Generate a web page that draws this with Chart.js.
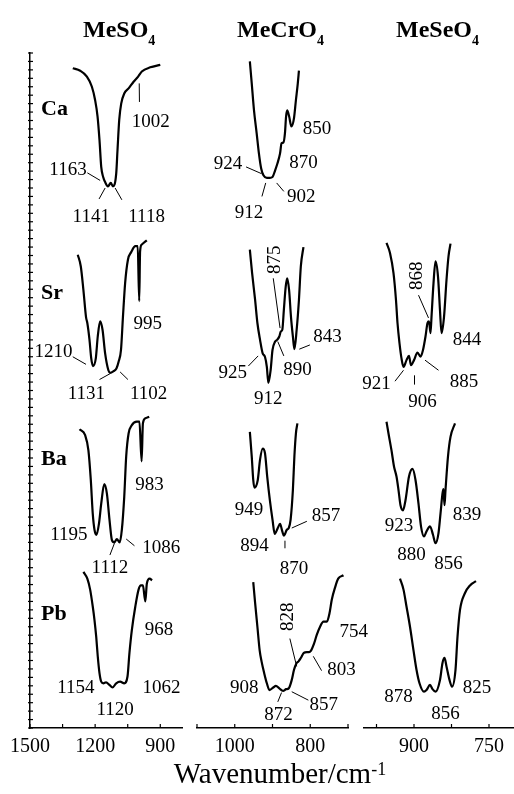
<!DOCTYPE html>
<html>
<head>
<meta charset="utf-8">
<script src="https://cdn.jsdelivr.net/npm/chart.js@4.4.1/dist/chart.umd.min.js"></script>
<style>
  body { margin: 0; background: #fff; width: 514px; height: 794px; position: relative; overflow: hidden; }
  canvas { position: absolute; top: 0; }
  #xtitle { position: absolute; left: 0; width: 560px; top: 759px; text-align: center;
            font: 29px/29px "Liberation Serif", "Times New Roman", serif; color: #000; }
  #xtitle sup { font-size: 18px; position: relative; top: -4px; vertical-align: top; }
</style>
</head>
<body>
<canvas id="colSO4" width="190" height="770" style="left:0"></canvas>
<canvas id="colCrO4" width="200" height="770" style="left:180px"></canvas>
<canvas id="colSeO4" width="158" height="770" style="left:356px"></canvas>
<div id="xtitle">Wavenumber/cm<sup>-1</sup></div>
<script>
// x 축 눈금 (작은 눈금 포함), 라벨이 붙는 값
const so4Ticks = [1500, 1350, 1200, 1050, 900]
const so4Labels = [1500, 1200, 900]
const cro4Ticks = [1100, 1000, 900, 800, 700]
const cro4Labels = [1000, 800]
const seo4Ticks = [975, 900, 825, 750]
const seo4Labels = [900, 750]

const rowNames = ['Ca', 'Sr', 'Ba', 'Pb']
const rowLabelY = [72.7, 50.8, 31.2, 12.8]

// 스펙트럼: 파수(cm-1)와 세로값 (그림에서 읽은 값, 줄마다 오프셋 포함)
const caSO4_wn = [1303, 1269, 1238, 1215, 1200, 1189, 1180, 1172, 1163, 1154, 1141, 1128, 1118, 1103, 1097, 1089, 1080, 1066, 1046, 1023, 1002, 985, 946, 900]
const caSO4_y = [78.2, 77.9, 77.2, 76.0, 74.4, 72.5, 69.7, 66.5, 65.3, 64.7, 64.2, 64.6, 64.2, 65.7, 68.5, 72.1, 74.0, 75.2, 75.8, 76.6, 77.2, 77.8, 78.3, 78.6]

const srSO4_wn = [1280, 1266, 1254, 1242, 1236, 1226, 1218, 1210, 1197, 1188, 1177, 1166, 1154, 1139, 1131, 1115, 1102, 1092, 1081, 1072, 1062, 1049, 1034, 1015, 1004, 997, 993, 985, 962]
const srSO4_y = [56.1, 54.7, 51.9, 48.7, 48.0, 46.0, 43.8, 42.9, 43.8, 46.4, 48.2, 47.2, 44.4, 42.4, 42.1, 42.3, 42.6, 43.4, 44.8, 48.7, 52.7, 55.5, 56.4, 57.1, 57.1, 50.6, 56.5, 57.3, 57.8]

const baSO4_wn = [1272, 1246, 1231, 1220, 1211, 1203, 1194, 1182, 1172, 1158, 1146, 1134, 1123, 1112, 1100, 1087, 1077, 1066, 1057, 1046, 1031, 1008, 996, 986, 980, 969, 951]
const baSO4_y = [35.4, 34.7, 32.9, 29.4, 25.4, 23.5, 22.9, 24.3, 26.6, 28.9, 27.8, 24.7, 22.3, 22.0, 22.4, 22.0, 23.5, 27.4, 32.2, 34.9, 35.9, 36.3, 36.3, 31.6, 36.1, 36.7, 36.9]

const pbSO4_wn = [1254, 1236, 1223, 1211, 1203, 1195, 1188, 1180, 1172, 1162, 1150, 1134, 1120, 1103, 1085, 1066, 1051, 1042, 1031, 1015, 1000, 989, 980, 969, 962, 949, 938]
const pbSO4_y = [18.5, 17.7, 16.4, 14.4, 12.8, 10.8, 8.5, 6.5, 5.5, 5.3, 5.4, 5.1, 4.8, 5.3, 5.5, 5.3, 6.1, 8.9, 11.6, 14.4, 16.4, 16.9, 16.9, 15.0, 17.1, 17.7, 17.5]

const caCrO4_wn = [960, 955, 949, 942, 936, 930, 924, 915, 907, 900, 893, 887, 880, 876, 871, 867, 864, 861, 856, 850, 843, 838, 833, 830]
const caCrO4_y = [79.0, 76.4, 73.2, 70.5, 68.1, 66.3, 65.5, 65.2, 65.2, 65.3, 66.1, 66.9, 68.1, 69.3, 69.4, 70.5, 72.5, 73.2, 72.5, 71.3, 72.3, 74.4, 76.4, 77.9]

const srCrO4_wn = [960, 954, 946, 940, 933, 926, 920, 915, 911, 905, 900, 893, 888, 882, 878, 874, 870, 865, 861, 856, 851, 846, 842, 836, 830, 825, 818]
const srCrO4_y = [56.7, 53.9, 50.7, 48.0, 46.0, 44.4, 44.0, 42.8, 40.9, 42.4, 44.8, 45.8, 46.0, 46.4, 47.0, 47.2, 49.5, 52.3, 53.3, 51.9, 48.7, 46.4, 44.9, 47.2, 50.7, 54.7, 57.0]

const baCrO4_wn = [960, 955, 951, 948, 939, 933, 926, 920, 914, 907, 900, 894, 886, 880, 874, 870, 862, 857, 852, 846, 842, 838, 834]
const baCrO4_y = [35.1, 32.2, 29.4, 28.5, 29.4, 31.8, 33.1, 32.6, 29.8, 27.0, 24.7, 23.0, 23.7, 24.2, 23.3, 22.8, 23.5, 23.7, 24.7, 28.2, 32.2, 34.9, 36.1]

const pbCrO4_wn = [951, 946, 940, 934, 929, 922, 915, 908, 898, 891, 882, 872, 864, 857, 849, 843, 836, 831, 825, 817, 809, 803, 799, 790, 783, 774, 765, 756, 749, 743, 734, 726, 712]
const pbCrO4_y = [17.3, 14.8, 12.0, 9.2, 7.9, 6.5, 5.3, 4.5, 4.8, 5.0, 4.7, 4.4, 4.6, 4.7, 5.7, 6.9, 7.7, 7.9, 8.3, 8.9, 9.0, 9.0, 9.1, 10.0, 11.0, 12.0, 12.6, 12.6, 13.6, 15.2, 16.7, 17.7, 18.1]

const srSeO4_wn = [955, 948, 941, 936, 933, 929, 925, 921, 915, 910, 906, 900, 893, 887, 882, 877, 873, 870, 867, 865, 861, 857, 852, 848, 845, 840, 835, 831, 827]
const srSeO4_y = [57.5, 56.3, 53.9, 50.7, 48.0, 45.6, 43.8, 42.8, 43.6, 44.1, 43.0, 43.6, 44.5, 44.0, 44.8, 46.4, 48.0, 48.2, 46.8, 48.7, 52.7, 55.3, 53.5, 49.5, 46.8, 48.7, 53.1, 55.9, 57.4]

const baSeO4_wn = [955, 951, 945, 940, 935, 931, 927, 922, 917, 910, 903, 897, 891, 886, 880, 875, 868, 862, 857, 851, 847, 843, 841, 839, 837, 832, 827, 818]
const baSeO4_y = [36.3, 34.9, 32.9, 31.0, 29.8, 28.2, 26.4, 25.8, 27.0, 29.8, 30.7, 29.4, 26.6, 23.9, 22.7, 23.3, 23.9, 22.9, 21.9, 23.1, 25.4, 27.8, 28.3, 26.4, 28.2, 32.2, 34.5, 36.1]

const pbSeO4_wn = [928, 921, 915, 908, 901, 895, 889, 880, 875, 868, 863, 857, 848, 843, 839, 835, 829, 824, 817, 813, 808, 798, 788, 776]
const pbSeO4_y = [17.7, 16.4, 14.4, 12.0, 9.2, 6.9, 5.3, 4.3, 4.5, 5.1, 4.6, 4.3, 5.7, 7.7, 8.3, 7.3, 5.7, 4.9, 6.9, 10.8, 14.0, 16.0, 16.9, 17.4]

// 피크 라벨: 텍스트, 라벨 중심(파수, 세로값), 지시선 [x1, y1, x2, y2], 세로쓰기 여부
const so4Peaks = [
  { t: '1002', x: 944, y: 71.9, line: [997, 76.4, 996, 74.2] },
  { t: '1163', x: 1325, y: 66.3, line: [1236, 65.8, 1177, 64.9] },
  { t: '1141', x: 1218, y: 60.7, line: [1182, 62.7, 1154, 64.0] },
  { t: '1118', x: 963, y: 60.7, line: [1108, 64.0, 1077, 62.6] },
  { t: '995', x: 958, y: 48.0 },
  { t: '1210', x: 1392, y: 44.7, line: [1303, 44.0, 1242, 43.1] },
  { t: '1131', x: 1240, y: 39.7, line: [1180, 41.3, 1131, 42.0] },
  { t: '1102', x: 954, y: 39.7, line: [1085, 42.2, 1049, 41.3] },
  { t: '983', x: 950, y: 28.9 },
  { t: '1195', x: 1321, y: 23.0 },
  { t: '1086', x: 896, y: 21.4, line: [1057, 22.4, 1019, 21.6] },
  { t: '1112', x: 1132, y: 19.1, line: [1111, 21.9, 1132, 20.5] },
  { t: '968', x: 906, y: 11.7 },
  { t: '1154', x: 1289, y: 4.9 },
  { t: '1062', x: 894, y: 4.9 },
  { t: '1120', x: 1108, y: 2.2 }
]
const cro4Peaks = [
  { t: '850', x: 782, y: 71.1 },
  { t: '870', x: 818, y: 67.1 },
  { t: '924', x: 1018, y: 67.0, line: [970, 66.5, 929, 65.7] },
  { t: '902', x: 824, y: 63.0, line: [889, 64.6, 870, 63.6] },
  { t: '912', x: 962, y: 61.1, line: [918, 64.6, 928, 63.0] },
  { t: '875', x: 896, y: 55.5, rot: true, line: [898, 53.3, 880, 47.4] },
  { t: '843', x: 754, y: 46.4, line: [829, 44.9, 801, 45.4] },
  { t: '890', x: 834, y: 42.6, line: [886, 45.8, 870, 44.1] },
  { t: '925', x: 1005, y: 42.2, line: [964, 42.9, 938, 44.1] },
  { t: '912', x: 911, y: 39.1 },
  { t: '949', x: 962, y: 25.9 },
  { t: '857', x: 758, y: 25.3, line: [849, 23.7, 809, 24.5] },
  { t: '894', x: 948, y: 21.7 },
  { t: '870', x: 843, y: 19.0, line: [867, 22.2, 867, 21.3] },
  { t: '828', x: 862, y: 13.2, rot: true, line: [854, 10.6, 836, 7.3] },
  { t: '754', x: 685, y: 11.5 },
  { t: '803', x: 717, y: 7.0, line: [792, 8.5, 770, 6.8] },
  { t: '908', x: 975, y: 4.9 },
  { t: '857', x: 764, y: 2.9, line: [849, 4.3, 805, 3.3] },
  { t: '872', x: 884, y: 1.7, line: [886, 3.1, 876, 4.2] }
]
const seo4Peaks = [
  { t: '868', x: 896, y: 53.6, rot: true, line: [891, 51.3, 871, 48.6] },
  { t: '844', x: 794, y: 46.1 },
  { t: '921', x: 975, y: 40.9, line: [938, 41.1, 921, 42.4] },
  { t: '885', x: 800, y: 41.1, line: [878, 43.6, 851, 42.4] },
  { t: '906', x: 883, y: 38.8, line: [899, 41.8, 899, 40.7] },
  { t: '839', x: 794, y: 25.4 },
  { t: '923', x: 930, y: 24.1 },
  { t: '880', x: 905, y: 20.6 },
  { t: '856', x: 831, y: 19.6 },
  { t: '878', x: 931, y: 3.8 },
  { t: '825', x: 774, y: 4.9 },
  { t: '856', x: 837, y: 1.8 }
]

const SERIF = '"Liberation Serif", "Times New Roman", serif'
Chart.defaults.font.family = SERIF
Chart.defaults.color = '#000'

// 축 안쪽으로 향하는 눈금
const inTicks = {
  id: 'inTicks',
  afterDraw(chart) {
    const ctx = chart.ctx
    ctx.save()
    ctx.strokeStyle = '#000'
    ctx.lineWidth = 1.2
    Object.values(chart.scales).forEach(s => {
      if (!s.options.display) return
      s.ticks.forEach(t => {
        const p = s.getPixelForValue(t.value)
        ctx.beginPath()
        if (s.isHorizontal()) {
          ctx.moveTo(p, s.top)
          ctx.lineTo(p, s.top - 4)
        } else {
          ctx.moveTo(s.right - 2, p)
          ctx.lineTo(s.right + 3, p)
        }
        ctx.stroke()
      })
    })
    ctx.restore()
  }
}

// 피크 번호와 지시선
const peakLabels = {
  id: 'peakLabels',
  afterDatasetsDraw(chart, args, opts) {
    const { ctx, scales: { x, y } } = chart
    ctx.save()
    ctx.fillStyle = '#000'
    ctx.strokeStyle = '#000'
    ctx.lineWidth = 1
    ctx.font = '19px ' + SERIF
    ctx.textAlign = 'center'
    ctx.textBaseline = 'middle'
    ;(opts.items || []).forEach(a => {
      if (a.line) {
        ctx.beginPath()
        ctx.moveTo(x.getPixelForValue(a.line[0]), y.getPixelForValue(a.line[1]))
        ctx.lineTo(x.getPixelForValue(a.line[2]), y.getPixelForValue(a.line[3]))
        ctx.stroke()
      }
      ctx.save()
      ctx.translate(x.getPixelForValue(a.x), y.getPixelForValue(a.y))
      if (a.rot) ctx.rotate(-Math.PI / 2)
      ctx.fillText(a.t, 0, 1)
      ctx.restore()
    })
    ctx.restore()
  }
}

// 열 제목 (아래첨자 4) 과 행 이름
const headings = {
  id: 'headings',
  afterDraw(chart, args, opts) {
    const { ctx, chartArea, scales: { y } } = chart
    ctx.save()
    ctx.fillStyle = '#000'
    ctx.textAlign = 'left'
    ctx.textBaseline = 'alphabetic'
    ctx.font = 'bold 24px ' + SERIF
    ctx.fillText(opts.title, opts.tx, 37)
    const w = ctx.measureText(opts.title).width
    ctx.font = 'bold 14px ' + SERIF
    ctx.fillText('4', opts.tx + w, 45)
    if (opts.rows) {
      ctx.font = 'bold 22px ' + SERIF
      rowNames.forEach((r, i) => ctx.fillText(r, chartArea.left + 11, y.getPixelForValue(rowLabelY[i])))
    }
    ctx.restore()
  }
}

function series(wn, yv) {
  return {
    data: wn.map((w, i) => ({ x: w, y: yv[i] })),
    borderColor: '#000',
    borderWidth: 2.2,
    pointRadius: 0,
    fill: false,
    cubicInterpolationMode: 'monotone'
  }
}

function makeColumn(id, o) {
  const ctx = document.getElementById(id).getContext('2d')
  return new Chart(ctx, {
    type: 'line',
    data: { datasets: o.sets },
    plugins: [inTicks, peakLabels, headings],
    options: {
      responsive: false,
      animation: false,
      layout: { padding: { left: o.padL, right: o.padR, top: 53, bottom: 0 } },
      plugins: {
        legend: { display: false },
        tooltip: { enabled: false },
        peakLabels: { items: o.peaks },
        headings: { title: o.title, tx: o.tx, rows: o.rows }
      },
      scales: {
        x: {
          type: 'linear',
          min: o.min,
          max: o.max,
          reverse: true,
          afterBuildTicks: s => { s.ticks = o.ticks.map(v => ({ value: v })) },
          afterFit: s => { s.height = 42 },
          grid: { display: false },
          border: { display: true, color: '#000', width: 1.5 },
          ticks: {
            autoSkip: false,
            maxRotation: 0,
            padding: -1,
            font: { size: 20 },
            callback: v => (o.labels.includes(v) ? String(v) : '')
          }
        },
        y: {
          min: 0,
          max: 80,
          display: o.rows ? true : false,
          afterFit: s => { s.width = 0 },
          grid: { display: false },
          border: { display: true, color: '#000', width: 1.5 },
          ticks: { stepSize: 1, display: false }
        }
      }
    }
  })
}

makeColumn('colSO4', {
  sets: [series(caSO4_wn, caSO4_y), series(srSO4_wn, srSO4_y), series(baSO4_wn, baSO4_y), series(pbSO4_wn, pbSO4_y)],
  peaks: so4Peaks, ticks: so4Ticks, labels: so4Labels,
  min: 800, max: 1500, padL: 30, padR: 8, title: 'MeSO', tx: 83, rows: true
})
makeColumn('colCrO4', {
  sets: [series(caCrO4_wn, caCrO4_y), series(srCrO4_wn, srCrO4_y), series(baCrO4_wn, baCrO4_y), series(pbCrO4_wn, pbCrO4_y)],
  peaks: cro4Peaks, ticks: cro4Ticks, labels: cro4Labels,
  min: 700, max: 1100, padL: 17, padR: 32, title: 'MeCrO', tx: 57, rows: false
})
makeColumn('colSeO4', {
  sets: [series(srSeO4_wn, srSeO4_y), series(baSeO4_wn, baSeO4_y), series(pbSeO4_wn, pbSeO4_y)],
  peaks: seo4Peaks, ticks: seo4Ticks, labels: seo4Labels,
  min: 700, max: 1000, padL: 8, padR: 0, title: 'MeSeO', tx: 40, rows: false
})
</script>
</body>
</html>
